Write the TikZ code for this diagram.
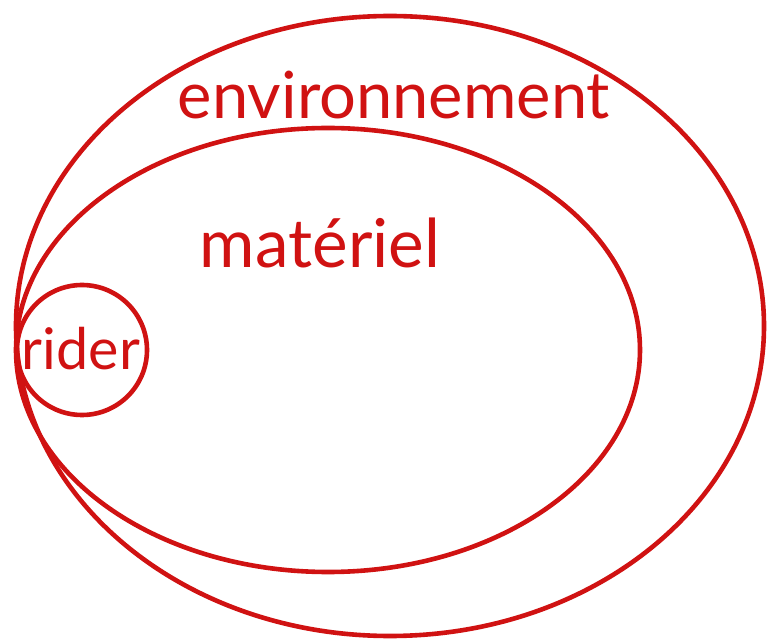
\documentclass[tikz,border=0pt]{standalone}
\usepackage{fontspec}
\setmainfont{Lato}
\definecolor{pen}{RGB}{208,18,18}
\begin{document}
\begin{tikzpicture}[x=1pt,y=-1pt,
  ring/.style={draw=pen,line width=4.6pt},
  lbl/.style={text=pen,inner sep=0pt}]
\useasboundingbox (0,0) rectangle (769,644);
\draw[ring] (390,326) ellipse [x radius=374, y radius=310];
\draw[ring] (328,350) ellipse [x radius=312, y radius=222];
\draw[ring] (82,350) circle [radius=65];
\node[lbl] (env) at (394,95) {\resizebox{432pt}{!}{environnement}};
\node[lbl] (mat) at (320,243) {\resizebox{240pt}{!}{matériel}};
\node[lbl] (rid) at (81,349) {\resizebox{118pt}{!}{rider}};
\end{tikzpicture}
\end{document}
